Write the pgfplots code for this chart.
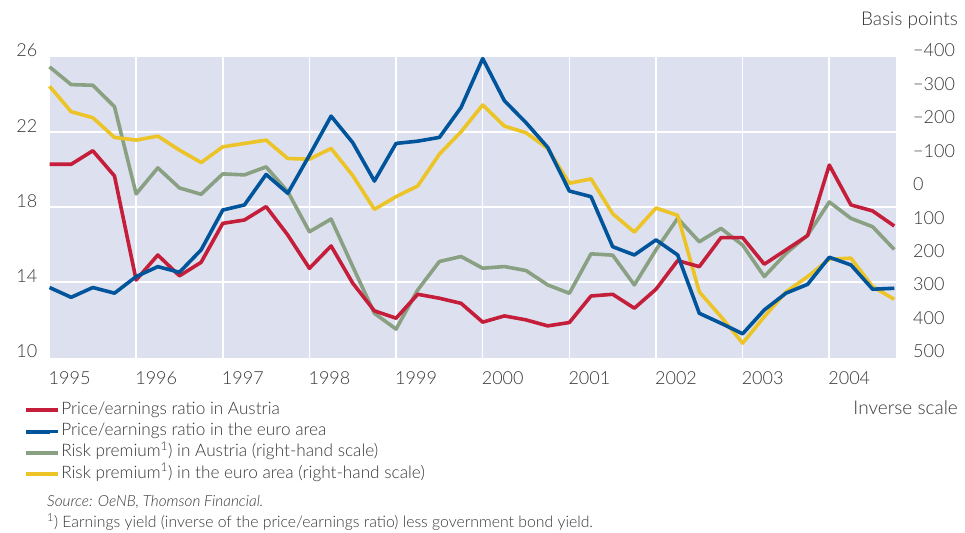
\documentclass[border=0pt]{standalone}
\usepackage{pgfplots}
\pgfplotsset{compat=1.18}
\usepackage{fontspec}
\setmainfont{Lato}[UprightFont={* Light}, ItalicFont={* Light Italic}]
\definecolor{bgc}{RGB}{221,225,239}
\definecolor{txt}{RGB}{55,55,55}
\definecolor{cred}{RGB}{196,30,58}
\definecolor{cblue}{RGB}{0,84,155}
\definecolor{cgreen}{RGB}{138,160,130}
\definecolor{cyellow}{RGB}{236,196,40}
\pgfplotstableread{
x red blue
1995.00 20.27 13.72
1995.25 20.27 13.20
1995.50 20.99 13.72
1995.75 19.65 13.42
1996.00 14.12 14.30
1996.25 15.45 14.83
1996.50 14.34 14.53
1996.75 15.06 15.72
1997.00 17.13 17.84
1997.25 17.31 18.11
1997.50 18.02 19.73
1997.75 16.51 18.73
1998.00 14.74 20.75
1998.25 15.93 22.83
1998.50 13.95 21.42
1998.75 12.48 19.38
1999.00 12.09 21.38
1999.25 13.36 21.50
1999.50 13.15 21.70
1999.75 12.88 23.29
2000.00 11.88 25.89
2000.25 12.21 23.65
2000.50 12.00 22.48
2000.75 11.68 21.17
2001.00 11.86 18.85
2001.25 13.27 18.55
2001.50 13.36 15.89
2001.75 12.62 15.45
2002.00 13.63 16.25
2002.25 15.15 15.45
2002.50 14.83 12.35
2002.75 16.37 11.82
2003.00 16.37 11.26
2003.25 14.96 12.53
2003.50 15.72 13.42
2003.75 16.48 13.89
2004.00 20.23 15.33
2004.25 18.11 14.92
2004.50 17.79 13.63
2004.75 16.99 13.68
}\petable
\pgfplotstableread{
x green yellow
1995.00 -369 -311
1995.25 -316 -235
1995.50 -314 -217
1995.75 -250 -158
1996.00 11 -150
1996.25 -67 -162
1996.50 -7 -120
1996.75 12 -83
1997.00 -49 -130
1997.25 -46 -140
1997.50 -70 -150
1997.75 4 -95
1998.00 124 -93
1998.25 86 -125
1998.50 228 -44
1998.75 368 57
1999.00 415 19
1999.25 298 -13
1999.50 213 -108
1999.75 198 -175
2000.00 233 -255
2000.25 228 -192
2000.50 240 -172
2000.75 283 -125
2001.00 308 -21
2001.25 190 -34
2001.50 194 70
2001.75 283 125
2002.00 178 53
2002.25 84 75
2002.50 154 304
2002.75 114 378
2003.00 164 457
2003.25 258 378
2003.50 189 304
2003.75 134 258
2004.00 35 206
2004.25 84 203
2004.50 109 288
2004.75 177 326
}\rptable
\begin{document}
\begin{tikzpicture}[every node/.style={text=txt}]
\path[use as bounding box] (0,0) rectangle (965pt,-532pt);
% right-hand scale axis (background, grid, green/yellow)
\begin{axis}[at={(49.5pt,-357.5pt)}, anchor=south west,
  scale only axis, width=846.5pt, height=301pt,
  xmin=1995, xmax=2004.77, ymin=-400, ymax=500, y dir=reverse,
  axis background/.style={fill=bgc},
  axis line style={draw=none}, major tick length=0pt,
  xtick={1996,...,2004}, xticklabels={}, xmajorgrids,
  grid style={white, line width=1.6pt},
  ytick={-400,-300,...,500},
  yticklabels={−400,−300,−200,−100,0,100,200,300,400,500},
  yticklabel pos=right,
  yticklabel style={anchor=west, inner sep=0pt, xshift=17pt, yshift=6pt, font=\fontsize{18}{21}\selectfont},
  extra y ticks={-175,50,275}, extra y tick labels={},
  extra y tick style={ymajorgrids=true, yticklabel pos=right},
  clip=false]
\addplot[cgreen, line width=3.6pt, line join=round] table[x=x, y=green] {\rptable};
\addplot[cyellow, line width=3.6pt, line join=round] table[x=x, y=yellow] {\rptable};
\end{axis}
% left-hand scale axis (red/blue)
\begin{axis}[at={(49.5pt,-357.5pt)}, anchor=south west,
  scale only axis, width=846.5pt, height=301pt,
  xmin=1995, xmax=2004.77, ymin=10, ymax=26,
  axis line style={draw=none}, major tick length=0pt,
  xtick={1995,...,2004},
  xticklabels={1995,1996,1997,1998,1999,2000,2001,2002,2003,2004},
  xticklabel style={anchor=north west, inner sep=0pt, xshift=-1pt, yshift=-14pt, font=\fontsize{18}{21}\selectfont},
  ytick={10,14,18,22,26}, yticklabels={10,14,18,22,26},
  yticklabel style={anchor=east, inner sep=0pt, xshift=-12pt, yshift=6pt, font=\fontsize{18}{21}\selectfont},
  clip=false,
  legend style={draw=none, fill=none, at={(rel axis cs:-0.030,-0.148)}, anchor=north west,
    inner sep=0pt, row sep=5.3pt, font=\fontsize{17.2}{19}\selectfont,
    nodes={inner sep=1pt, text height=11pt, text depth=3pt}},
  legend cell align=left,
  legend image code/.code={\draw[#1, line width=4pt] (0pt,0pt) -- (24pt,0pt); \path (0pt,0pt) -- (32pt,0pt);}]
\addplot[cred, line width=3.6pt, line join=round] table[x=x, y=red] {\petable};
\addlegendentry{Price/earnings ratio in Austria}
\addplot[cblue, line width=3.6pt, line join=round] table[x=x, y=blue] {\petable};
\addlegendentry{Price/earnings ratio in the euro area}
\addlegendimage{cgreen, line width=4pt}
\addlegendentry{Risk premium\textsuperscript{1}) in Austria (right-hand scale)}
\addlegendimage{cyellow, line width=4pt}
\addlegendentry{Risk premium\textsuperscript{1}) in the euro area (right-hand scale)}
\end{axis}
\node[anchor=east, inner sep=0pt, font=\fontsize{19}{22}\selectfont] at (958pt,-20pt) {Basis points};
\node[anchor=east, inner sep=0pt, font=\fontsize{19}{22}\selectfont] at (958pt,-408pt) {Inverse scale};
\node[anchor=west, inner sep=0pt, font=\fontsize{15.3}{18}\selectfont\itshape] at (47pt,-502pt) {Source: OeNB, Thomson Financial.};
\node[anchor=west, inner sep=0pt, font=\fontsize{15.8}{18}\selectfont] at (47pt,-522pt) {\textsuperscript{1}) Earnings yield (inverse of the price/earnings ratio) less government bond yield.};
\end{tikzpicture}
\end{document}
